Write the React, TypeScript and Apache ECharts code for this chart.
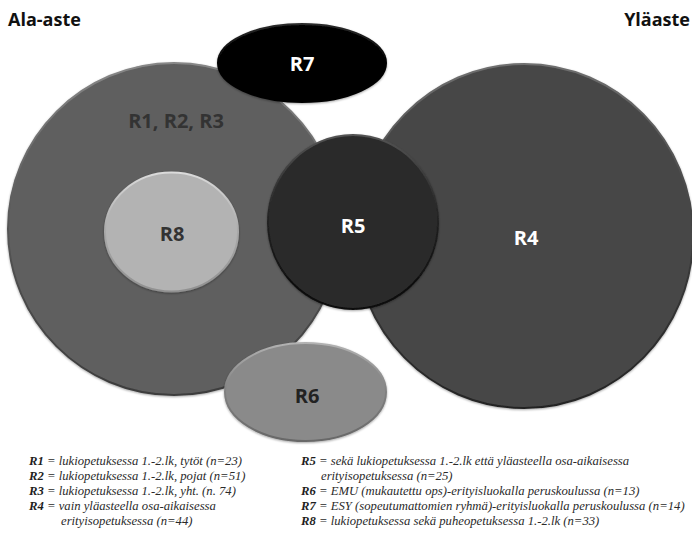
import React, { useEffect, useRef } from "react";
import * as echarts from "echarts";

// ---- data ----
const headerLeft = "Ala-aste";
const headerRight = "Yläaste";
const regionNames = ["R1, R2, R3", "R4", "R8", "R5", "R7", "R6"];
const legendKeys = ["R1", "R2", "R3", "R4", "R5", "R6", "R7", "R8"];
const legendDescs: string[][] = [
  ["lukiopetuksessa 1.-2.lk, tytöt (n=23)"],
  ["lukiopetuksessa 1.-2.lk, pojat (n=51)"],
  ["lukiopetuksessa 1.-2.lk, yht. (n. 74)"],
  ["vain yläasteella osa-aikaisessa", "erityisopetuksessa (n=44)"],
  ["sekä lukiopetuksessa 1.-2.lk että yläasteella osa-aikaisessa", "erityisopetuksessa (n=25)"],
  ["EMU (mukautettu ops)-erityisluokalla peruskoulussa (n=13)"],
  ["ESY (sopeutumattomien ryhmä)-erityisluokalla peruskoulussa (n=14)"],
  ["lukiopetuksessa sekä puheopetuksessa 1.-2.lk (n=33)"],
];

// ---- layout (shapes) ----
const shapes = [
  { cx: 174, cy: 229, rx: 166, ry: 166, fill: "#5f5f5f", text: "#333333" },
  { cx: 524, cy: 236, rx: 169, ry: 172, fill: "#474747", text: "#ffffff" },
  { cx: 171.5, cy: 232, rx: 66.5, ry: 59.5, fill: "#b3b3b3", text: "#333333" },
  { cx: 353, cy: 222, rx: 85, ry: 87, fill: "#2b2b2b", text: "#ffffff" },
  { cx: 302, cy: 63, rx: 84, ry: 39, fill: "#030303", text: "#ffffff" },
  { cx: 305.5, cy: 392, rx: 80.5, ry: 49, fill: "#8a8a8a", text: "#222222" },
];
const labelPos = [
  [176, 120],
  [526, 237],
  [172, 233],
  [353, 225],
  [302, 63],
  [307, 395],
];

function shade(hex: string, amt: number) {
  const n = parseInt(hex.slice(1), 16);
  const c = [(n >> 16) & 255, (n >> 8) & 255, n & 255].map((v) =>
    Math.max(0, Math.min(255, Math.round(v + amt)))
  );
  return "rgb(" + c.join(",") + ")";
}

const KEY_FONT = "italic bold 12.7px 'Liberation Serif'";
const DESC_FONT = "italic 12.7px 'Liberation Serif'";

export default function App() {
  const ref = useRef<HTMLDivElement>(null);
  useEffect(() => {
    if (!ref.current) return;
    const chart = echarts.init(ref.current, undefined, { renderer: "svg" });
    const ctx = document.createElement("canvas").getContext("2d")!;
    ctx.font = KEY_FONT;
    const elements: any[] = [];
    shapes.forEach((s, i) => {
      elements.push({
        type: "ellipse",
        shape: { cx: s.cx, cy: s.cy, rx: s.rx, ry: s.ry },
        style: {
          fill: s.fill,
          stroke: new echarts.graphic.LinearGradient(0, 0, 0, 1, [
            { offset: 0, color: shade(s.fill, 40) },
            { offset: 0.5, color: shade(s.fill, -10) },
            { offset: 1, color: shade(s.fill, -35) },
          ]),
          lineWidth: 2,
          shadowColor: "rgba(0,0,0,0.35)",
          shadowBlur: 2,
          shadowOffsetY: 1,
        },
        z: 10 + i * 2,
      });
      elements.push({
        type: "text",
        x: labelPos[i][0],
        y: labelPos[i][1],
        style: {
          text: regionNames[i],
          fill: s.text,
          font: "bold 20px 'Open Sans'",
          align: "center",
          verticalAlign: "middle",
        },
        z: 11 + i * 2,
      });
    });
    [
      { t: headerLeft, x: 8, align: "left" },
      { t: headerRight, x: 690, align: "right" },
    ].forEach((h) => {
      elements.push({
        type: "text",
        x: h.x,
        y: 19,
        style: {
          text: h.t,
          fill: "#111",
          font: "bold 18px 'Open Sans'",
          align: h.align,
          verticalAlign: "middle",
        },
        z: 40,
      });
    });
    const rowY = [461, 476, 491, 506, 521];
    const cols = [
      { x: 29, indent: 61 },
      { x: 301, indent: 321 },
    ];
    let col = 0;
    let row = 0;
    legendKeys.forEach((k, i) => {
      if (i === 4) {
        col = 1;
        row = 0;
      }
      const lines = legendDescs[i];
      lines.forEach((ln, j) => {
        const isFirst = j === 0;
        let x = isFirst ? cols[col].x : cols[col].indent;
        if (isFirst) {
          elements.push({
            type: "text",
            x,
            y: rowY[row],
            style: {
              text: k,
              fill: "#1e1e1e",
              font: KEY_FONT,
              align: "left",
              verticalAlign: "middle",
            },
            z: 40,
          });
          x += ctx.measureText(k).width;
        }
        elements.push({
          type: "text",
          x,
          y: rowY[row],
          style: {
            text: (isFirst ? " = " : "") + ln,
            fill: "#2a2a2a",
            font: DESC_FONT,
            align: "left",
            verticalAlign: "middle",
          },
          z: 40,
        });
        row++;
      });
    });
    chart.setOption({
      animation: false,
      backgroundColor: "#ffffff",
      graphic: { elements },
    });
    return () => chart.dispose();
  }, []);
  return (
    <div
      ref={ref}
      style={{ position: "absolute", left: 0, top: 0, width: 692, height: 545 }}
    />
  );
}
